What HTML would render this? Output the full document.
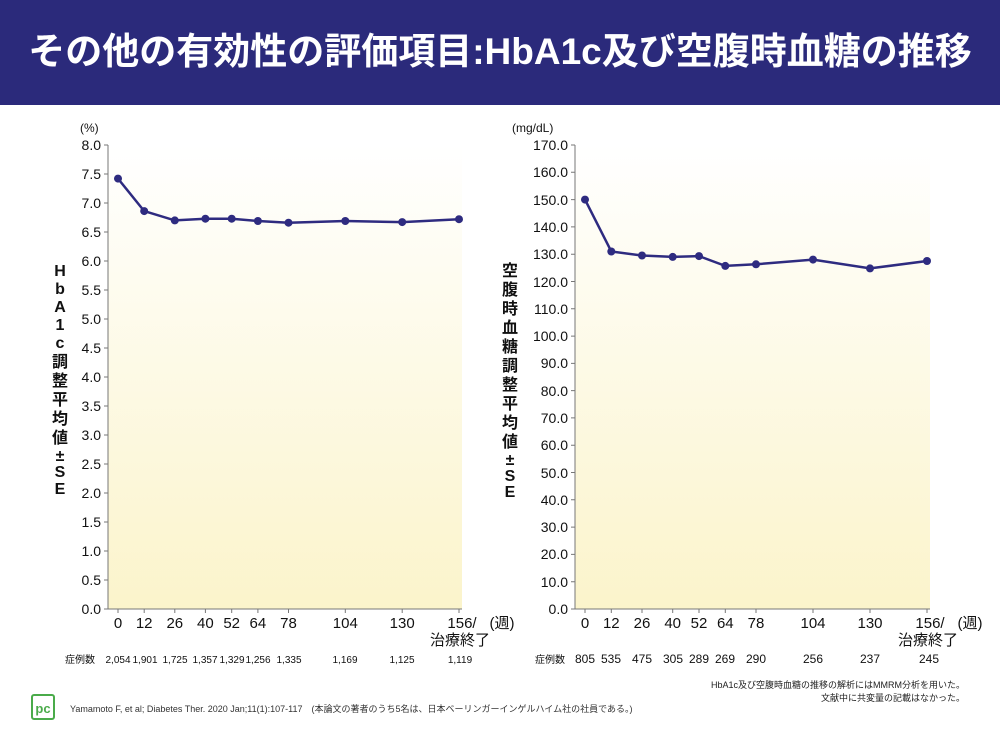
<!DOCTYPE html>
<html><head><meta charset="utf-8"><style>
body{margin:0;width:1000px;height:750px;background:#fff;overflow:hidden;font-family:"Liberation Sans","Noto Sans CJK JP",sans-serif}
.hdr{position:absolute;left:0;top:0;width:1000px;height:105px;background:#2b2a7b;color:#fff;font-weight:bold;font-size:37px;line-height:104px;text-align:center;letter-spacing:0px}
svg{position:absolute;left:0;top:0}
</style></head><body>
<div class="hdr">その他の有効性の評価項目:HbA1c及び空腹時血糖の推移</div>
<svg width="1000" height="750" font-family="'Liberation Sans','Noto Sans CJK JP',sans-serif">
<defs><linearGradient id="g" x1="0" y1="0" x2="0" y2="1"><stop offset="0" stop-color="#ffffff"/><stop offset="1" stop-color="#fbf4cb"/></linearGradient></defs>
<rect x="108" y="145" width="354" height="464" fill="url(#g)"/>
<rect x="575" y="145" width="355" height="464" fill="url(#g)"/>
<g stroke="#777" stroke-width="1" fill="none">
<path d="M108 145V609H462M575 145V609H930"/>
<path d="M104 145h4M104 174h4M104 203h4M104 232h4M104 261h4M104 290h4M104 319h4M104 348h4M104 377h4M104 406h4M104 435h4M104 464h4M104 493h4M104 522h4M104 551h4M104 580h4M104 609h4"/>
<path d="M571 145h4M571 172.3h4M571 199.6h4M571 226.9h4M571 254.2h4M571 281.5h4M571 308.8h4M571 336.1h4M571 363.4h4M571 390.6h4M571 417.9h4M571 445.2h4M571 472.5h4M571 499.8h4M571 527.1h4M571 554.4h4M571 581.7h4M571 609h4"/>
<path d="M118 609v4M144.2 609v4M174.8 609v4M205.4 609v4M231.7 609v4M257.9 609v4M288.5 609v4M345.3 609v4M402.2 609v4M459 609v4"/>
<path d="M585 609v4M611.3 609v4M642 609v4M672.7 609v4M699 609v4M725.3 609v4M756 609v4M813 609v4M870 609v4M927 609v4"/>
</g>
<g font-size="14" fill="#111" text-anchor="end">
<text x="101" y="150">8.0</text><text x="101" y="179">7.5</text><text x="101" y="208">7.0</text><text x="101" y="237">6.5</text><text x="101" y="266">6.0</text><text x="101" y="295">5.5</text><text x="101" y="324">5.0</text><text x="101" y="353">4.5</text><text x="101" y="382">4.0</text><text x="101" y="411">3.5</text><text x="101" y="440">3.0</text><text x="101" y="469">2.5</text><text x="101" y="498">2.0</text><text x="101" y="527">1.5</text><text x="101" y="556">1.0</text><text x="101" y="585">0.5</text><text x="101" y="614">0.0</text>
<text x="568" y="150">170.0</text><text x="568" y="177">160.0</text><text x="568" y="205">150.0</text><text x="568" y="232">140.0</text><text x="568" y="259">130.0</text><text x="568" y="287">120.0</text><text x="568" y="314">110.0</text><text x="568" y="341">100.0</text><text x="568" y="368">90.0</text><text x="568" y="396">80.0</text><text x="568" y="423">70.0</text><text x="568" y="450">60.0</text><text x="568" y="478">50.0</text><text x="568" y="505">40.0</text><text x="568" y="532">30.0</text><text x="568" y="559">20.0</text><text x="568" y="587">10.0</text><text x="568" y="614">0.0</text>
</g>
<text x="80" y="132" font-size="12" fill="#111">(%)</text>
<text x="512" y="132" font-size="12" fill="#111">(mg/dL)</text>
<g font-size="15" fill="#111" text-anchor="middle">
<text x="118" y="628">0</text><text x="144.2" y="628">12</text><text x="174.8" y="628">26</text><text x="205.4" y="628">40</text><text x="231.7" y="628">52</text><text x="257.9" y="628">64</text><text x="288.5" y="628">78</text><text x="345.3" y="628">104</text><text x="402.2" y="628">130</text><text x="462" y="628">156/</text><text x="502" y="628">(週)</text><text x="460" y="645">治療終了</text>
<text x="585" y="628">0</text><text x="611.3" y="628">12</text><text x="642" y="628">26</text><text x="672.7" y="628">40</text><text x="699" y="628">52</text><text x="725.3" y="628">64</text><text x="756" y="628">78</text><text x="813" y="628">104</text><text x="870" y="628">130</text><text x="930" y="628">156/</text><text x="970" y="628">(週)</text><text x="928" y="645">治療終了</text>
</g>
<g font-size="10" fill="#111" text-anchor="middle">
<text x="80" y="663">症例数</text><text x="118" y="663">2,054</text><text x="145" y="663">1,901</text><text x="175" y="663">1,725</text><text x="205" y="663">1,357</text><text x="232" y="663">1,329</text><text x="258" y="663">1,256</text><text x="289" y="663">1,335</text><text x="345" y="663">1,169</text><text x="402" y="663">1,125</text><text x="460" y="663">1,119</text>
<text x="550" y="663">症例数</text><text x="585" y="663" font-size="12">805</text><text x="611" y="663" font-size="12">535</text><text x="642" y="663" font-size="12">475</text><text x="673" y="663" font-size="12">305</text><text x="699" y="663" font-size="12">289</text><text x="725" y="663" font-size="12">269</text><text x="756" y="663" font-size="12">290</text><text x="813" y="663" font-size="12">256</text><text x="870" y="663" font-size="12">237</text><text x="929" y="663" font-size="12">245</text>
</g>
<g font-size="9" fill="#222" text-anchor="end">
<text x="965" y="688">HbA1c及び空腹時血糖の推移の解析にはMMRM分析を用いた。</text>
<text x="965" y="701">文献中に共変量の記載はなかった。</text>
</g>
<text x="70" y="712" font-size="9" fill="#333">Yamamoto F, et al; Diabetes Ther. 2020 Jan;11(1):107-117　(本論文の著者のうち5名は、日本ベーリンガーインゲルハイム社の社員である。)</text>
<rect x="32" y="695" width="22" height="24" rx="2" fill="#fff" stroke="#4aab4a" stroke-width="2"/>
<text x="43" y="713" font-size="13" font-weight="bold" fill="#4aab4a" text-anchor="middle">pc</text>
<g font-size="16" font-weight="bold" fill="#111" text-anchor="middle">
<text x="60" y="276">H</text><text x="60" y="294">b</text><text x="60" y="312">A</text><text x="60" y="330">1</text><text x="60" y="348">c</text><text x="60" y="367">調</text><text x="60" y="386">整</text><text x="60" y="405">平</text><text x="60" y="424">均</text><text x="60" y="443">値</text><text x="60" y="461">±</text><text x="60" y="477">S</text><text x="60" y="494">E</text>
<text x="510" y="276">空</text><text x="510" y="295">腹</text><text x="510" y="314">時</text><text x="510" y="333">血</text><text x="510" y="352">糖</text><text x="510" y="371">調</text><text x="510" y="390">整</text><text x="510" y="409">平</text><text x="510" y="428">均</text><text x="510" y="447">値</text><text x="510" y="465">±</text><text x="510" y="481">S</text><text x="510" y="497">E</text>
</g>
<g stroke="#2e2b80" stroke-width="2.5" fill="none">
<polyline points="118,178.6 144.2,211.1 174.8,220.4 205.4,218.7 231.7,218.7 257.9,221 288.5,222.7 345.3,221 402.2,222.1 459,219.2"/>
<polyline points="585,199.6 611.3,251.5 642,255.5 672.7,256.9 699,256.1 725.3,265.9 756,264.3 813,259.6 870,268.4 927,261"/>
</g>
<g fill="#2e2b80">
<circle cx="118" cy="178.6" r="4"/><circle cx="144.2" cy="211.1" r="4"/><circle cx="174.8" cy="220.4" r="4"/><circle cx="205.4" cy="218.7" r="4"/><circle cx="231.7" cy="218.7" r="4"/><circle cx="257.9" cy="221" r="4"/><circle cx="288.5" cy="222.7" r="4"/><circle cx="345.3" cy="221" r="4"/><circle cx="402.2" cy="222.1" r="4"/><circle cx="459" cy="219.2" r="4"/>
<circle cx="585" cy="199.6" r="4"/><circle cx="611.3" cy="251.5" r="4"/><circle cx="642" cy="255.5" r="4"/><circle cx="672.7" cy="256.9" r="4"/><circle cx="699" cy="256.1" r="4"/><circle cx="725.3" cy="265.9" r="4"/><circle cx="756" cy="264.3" r="4"/><circle cx="813" cy="259.6" r="4"/><circle cx="870" cy="268.4" r="4"/><circle cx="927" cy="261" r="4"/>
</g>
</svg>
</body></html>
